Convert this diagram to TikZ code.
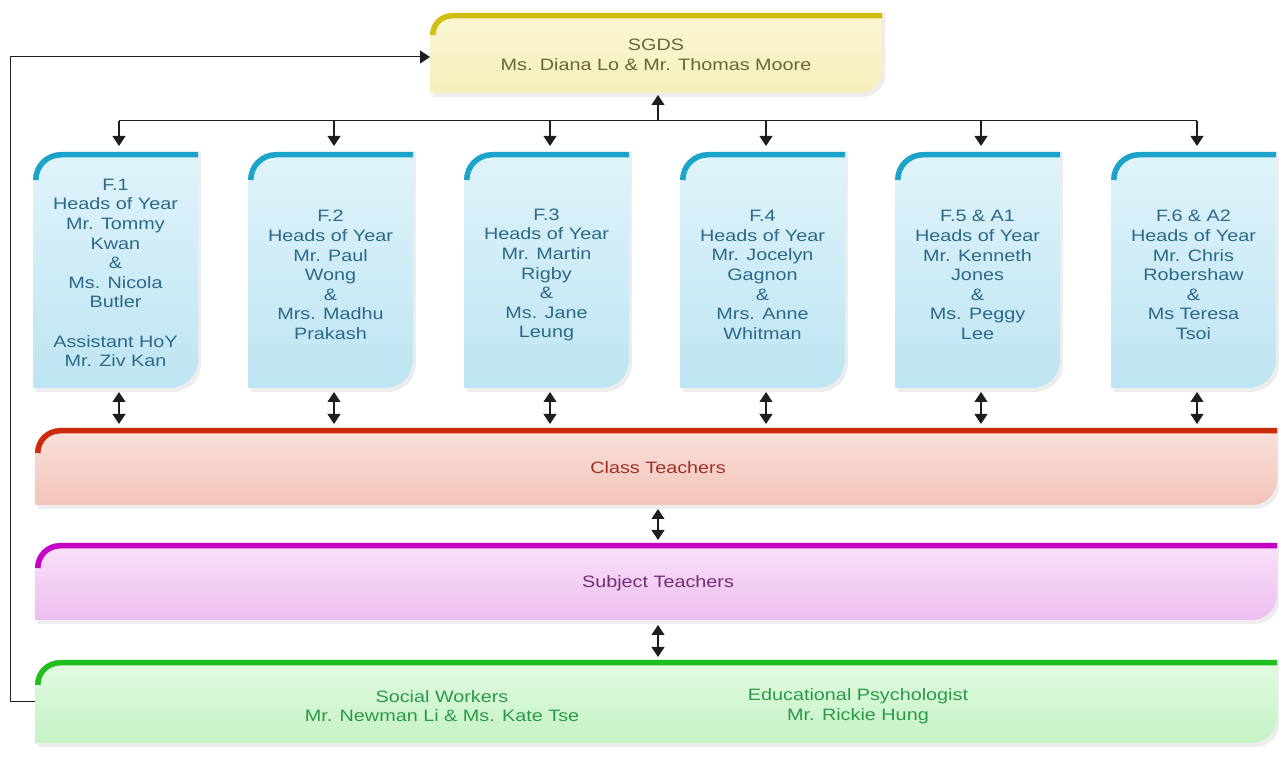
\documentclass[tikz,border=0pt]{standalone}
\usepackage{fontspec}
\setmainfont{Liberation Sans}[FakeStretch=1.2]
\usetikzlibrary{arrows.meta}
\definecolor{sgdsB}{HTML}{D2BE12}
\definecolor{sgdsT}{HTML}{FAF6D2}
\definecolor{sgdsF}{HTML}{F6EFBC}
\definecolor{sgdsX}{HTML}{6A6638}
\definecolor{yrB}{HTML}{1BA3C9}
\definecolor{yrT}{HTML}{E0F3FA}
\definecolor{yrF}{HTML}{BDE5F2}
\definecolor{yrX}{HTML}{2B6A88}
\definecolor{ctB}{HTML}{CC2A0A}
\definecolor{ctT}{HTML}{F9E2DC}
\definecolor{ctF}{HTML}{F2C3BA}
\definecolor{ctX}{HTML}{A2302A}
\definecolor{stB}{HTML}{C400C4}
\definecolor{stT}{HTML}{F9E2F9}
\definecolor{stF}{HTML}{EDBDEF}
\definecolor{stX}{HTML}{762C76}
\definecolor{swB}{HTML}{1FBF1F}
\definecolor{swT}{HTML}{E2FAE2}
\definecolor{swF}{HTML}{C5F2C5}
\definecolor{swX}{HTML}{2A9A4A}
\definecolor{lnC}{HTML}{1E1E1E}
\newcommand\orgshape[5]{%
  \fill[black, opacity=0.07] ([xshift=3pt,yshift=-4pt]#1.south west) -- ([xshift=3pt,yshift=-#5pt]#1.north west) arc[start angle=180,end angle=90,radius=#5] -- ([xshift=3pt]#1.north east) -- ([xshift=3pt,yshift=#5pt-4pt]#1.south east) arc[start angle=0,end angle=-90,radius=#5] -- cycle;
  \shade[top color=#2, bottom color=#3] (#1.south west) -- ([yshift=-#5pt]#1.north west) arc[start angle=180,end angle=90,radius=#5] -- (#1.north east) -- ([yshift=#5pt]#1.south east) arc[start angle=0,end angle=-90,radius=#5] -- cycle;
  \draw[#4, line width=5.5pt] ([xshift=2.75pt,yshift=-#5pt]#1.north west) arc[start angle=180,end angle=90,radius=#5-2.75] -- ([yshift=-2.75pt]#1.north east);
}
\tikzset{
  box/.style={inner sep=0pt, outer sep=0pt, align=center, font=\fontsize{16.5}{19.6}\selectfont},
  yearbox/.style={box, minimum width=165pt, minimum height=236pt, text=yrX},
  band/.style={box, minimum width=1242pt, minimum height=77pt},
  arr/.style={draw=lnC, line width=1.1pt, -{Triangle[width=13pt,length=10pt]}},
  darr/.style={draw=lnC, line width=1.1pt, {Triangle[width=13pt,length=10pt]}-{Triangle[width=13pt,length=10pt]}},
  link/.style={draw=lnC, line width=1pt},
}
\begin{document}
\begin{tikzpicture}[x=1pt,y=1pt]
\useasboundingbox (0,0) rectangle (1279,771);
% nodes (placed first, shapes drawn behind)
\node[box, minimum width=452pt, minimum height=80pt] (sgds) at (656,718) {};
\node[yearbox] (f1) at (115.5,501) {};
\node[yearbox] (f2) at (330.5,501) {};
\node[yearbox] (f3) at (546.5,501) {};
\node[yearbox] (f4) at (762.5,501) {};
\node[yearbox] (f5) at (977.5,501) {};
\node[yearbox] (f6) at (1193.5,501) {};
\node[band] (ct) at (656,304.5) {};
\node[band] (st) at (656,189.5) {};
\node[band, minimum height=83pt] (sw) at (656,69.5) {};
% shapes
\orgshape{sgds}{sgdsT}{sgdsF}{sgdsB}{22}
\foreach \n in {f1,f2,f3,f4,f5,f6} {\orgshape{\n}{yrT}{yrF}{yrB}{28}}
\orgshape{ct}{ctT}{ctF}{ctB}{25}
\orgshape{st}{stT}{stF}{stB}{25}
\orgshape{sw}{swT}{swF}{swB}{25}
% texts
\node[box, text=sgdsX] (sgdst) at (656,716) {SGDS\\Ms. Diana Lo \& Mr. Thomas Moore};
\node[box, text=yrX] (f1t) at ([yshift=-3pt]f1) {F.1\\Heads of Year\\Mr. Tommy\\Kwan\\\&\\Ms. Nicola\\Butler\\[19.6pt]Assistant HoY\\Mr. Ziv Kan};
\node[box, text=yrX] (f2t) at ([yshift=-5pt]f2) {F.2\\Heads of Year\\Mr. Paul\\Wong\\\&\\Mrs. Madhu\\Prakash};
\node[box, text=yrX] (f3t) at ([yshift=-5pt]f3) {F.3\\Heads of Year\\Mr. Martin\\Rigby\\\&\\Ms. Jane\\Leung};
\node[box, text=yrX] (f4t) at ([yshift=-5pt]f4) {F.4\\Heads of Year\\Mr. Jocelyn\\Gagnon\\\&\\Mrs. Anne\\Whitman};
\node[box, text=yrX] (f5t) at ([yshift=-5pt]f5) {F.5 \& A1\\Heads of Year\\Mr. Kenneth\\Jones\\\&\\Ms. Peggy\\Lee};
\node[box, text=yrX] (f6t) at ([yshift=-5pt]f6) {F.6 \& A2\\Heads of Year\\Mr. Chris\\Robershaw\\\&\\Ms Teresa\\Tsoi};
\node[box, text=ctX] (ctt) at (658,303) {Class Teachers};
\node[box, text=stX] (stt) at (658,188) {Subject Teachers};
\node[box, text=swX] (swt1) at (442,65) {Social Workers\\Mr. Newman Li \& Ms. Kate Tse};
\node[box, text=swX] (swt2) at (858,65) {Educational Psychologist\\Mr. Rickie Hung};
% connectors
\coordinate (bus) at (658,650);
\draw[link] ([xshift=3.5pt]f1.north |- bus) -- ([xshift=3.5pt]f6.north |- bus);
\draw[arr, shorten >=2pt] (bus) -- (sgds.south -| bus);
\foreach \n in {f1,f2,f3,f4,f5,f6} {
  \draw[arr, shorten >=6pt] ([xshift=3.5pt]\n.north |- bus) -- ([xshift=3.5pt]\n.north);
  \draw[darr, shorten <=4pt, shorten >=4pt] ([xshift=3.5pt]\n.south) -- ([xshift=3.5pt]\n.south |- ct.north);
}
\draw[darr, shorten <=4pt, shorten >=3pt] (ct.south -| bus) -- (st.north -| bus);
\draw[darr, shorten <=5pt, shorten >=3pt] (st.south -| bus) -- (sw.north -| bus);
\draw[arr, line width=1pt] (sw.west) -- ++(-25,0) |- ([yshift=-4pt]sgds.west);
\end{tikzpicture}
\end{document}
